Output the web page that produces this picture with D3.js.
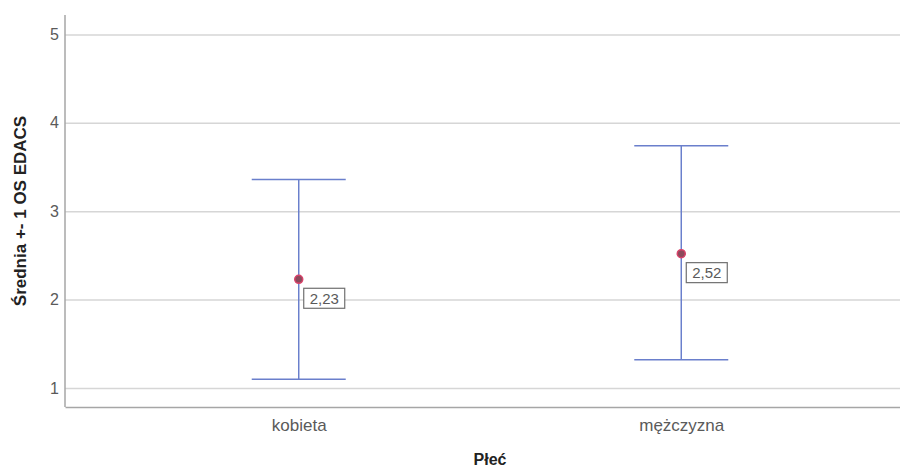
<!DOCTYPE html>
<html>
<head>
<meta charset="utf-8">
<script src="https://cdn.jsdelivr.net/npm/d3@7"></script>
<style>
  body { margin: 0; background: #fff; }
  svg { display: block; font-family: "Liberation Sans", Arial, sans-serif; }
</style>
</head>
<body>
<svg id="chart" width="900" height="470"></svg>
<script>
// data
var categories = ["kobieta", "mężczyzna"];
var means = [2.23, 2.52];
var lower = [1.10, 1.32];
var upper = [3.36, 3.74];
var meanLabels = ["2,23", "2,52"];
var yTicks = [1, 2, 3, 4, 5];

var svg = d3.select("#chart"),
    margin = {top: 15, right: -15, bottom: 63, left: 65},
    width = +svg.attr("width") - margin.left - margin.right,
    height = +svg.attr("height") - margin.top - margin.bottom,
    g = svg.append("g").attr("transform", "translate(" + margin.left + "," + margin.top + ")");

var x = d3.scalePoint()
    .domain(categories)
    .range([0, width])
    .padding(0.611);

var y = d3.scaleLinear()
    .domain([0.785, 5.22])
    .range([height, 0]);

// grid + y axis
var yAxis = g.append("g")
  .call(d3.axisLeft(y).tickValues(yTicks).tickSize(-width).tickPadding(6).tickFormat(d3.format("d")));
yAxis.select(".domain").remove();
yAxis.selectAll(".tick line").attr("stroke", "#d6d6d6").attr("stroke-width", 1.5);
yAxis.selectAll(".tick text")
  .attr("fill", "#5a5a5a")
  .style("font-size", "16px");

// axis frame
g.append("line")
  .attr("x1", 0).attr("x2", 0).attr("y1", 0).attr("y2", height)
  .attr("stroke", "#a6a6a6").attr("stroke-width", 1.5);

var xAxis = g.append("g")
  .attr("transform", "translate(0," + height + ")")
  .call(d3.axisBottom(x).tickSize(0).tickPadding(12));
xAxis.select(".domain").attr("stroke", "#a6a6a6").attr("stroke-width", 1.5);
xAxis.selectAll(".tick text")
  .attr("fill", "#5a5a5a")
  .style("font-size", "17px");

// error bars
var capHalf = 47;
var bars = g.selectAll(".bar")
  .data(categories)
  .enter().append("g")
  .attr("class", "bar");

bars.append("line")
  .attr("x1", function(d) { return x(d); })
  .attr("x2", function(d) { return x(d); })
  .attr("y1", function(d, i) { return y(upper[i]); })
  .attr("y2", function(d, i) { return y(lower[i]); })
  .attr("stroke", "#6a7fcc").attr("stroke-width", 1.5);

bars.append("line")
  .attr("x1", function(d) { return x(d) - capHalf; })
  .attr("x2", function(d) { return x(d) + capHalf; })
  .attr("y1", function(d, i) { return y(upper[i]); })
  .attr("y2", function(d, i) { return y(upper[i]); })
  .attr("stroke", "#6a7fcc").attr("stroke-width", 1.5);

bars.append("line")
  .attr("x1", function(d) { return x(d) - capHalf; })
  .attr("x2", function(d) { return x(d) + capHalf; })
  .attr("y1", function(d, i) { return y(lower[i]); })
  .attr("y2", function(d, i) { return y(lower[i]); })
  .attr("stroke", "#6a7fcc").attr("stroke-width", 1.5);

bars.append("circle")
  .attr("cx", function(d) { return x(d); })
  .attr("cy", function(d, i) { return y(means[i]); })
  .attr("r", 4)
  .attr("fill", "#8c4a5c")
  .attr("stroke", "#d9436a")
  .attr("stroke-width", 1.5);

// value labels
bars.append("rect")
  .attr("x", function(d) { return x(d) + 5; })
  .attr("y", function(d, i) { return y(means[i]) + 9; })
  .attr("width", 41)
  .attr("height", 20)
  .attr("fill", "#fff")
  .attr("stroke", "#707070")
  .attr("stroke-width", 1.2);

bars.append("text")
  .attr("x", function(d) { return x(d) + 25.5; })
  .attr("y", function(d, i) { return y(means[i]) + 24.5; })
  .attr("text-anchor", "middle")
  .attr("fill", "#5a5a5a")
  .style("font-size", "15px")
  .text(function(d, i) { return meanLabels[i]; });

// titles
svg.append("text")
  .attr("transform", "translate(26," + (margin.top + height / 2) + ") rotate(-90)")
  .attr("text-anchor", "middle")
  .attr("fill", "#222")
  .style("font-size", "17px")
  .style("font-weight", "bold")
  .text("Średnia +- 1 OS EDACS");

svg.append("text")
  .attr("x", margin.left + width / 2)
  .attr("y", 465)
  .attr("text-anchor", "middle")
  .attr("fill", "#222")
  .style("font-size", "16px")
  .style("font-weight", "bold")
  .text("Płeć");
</script>
</body>
</html>
